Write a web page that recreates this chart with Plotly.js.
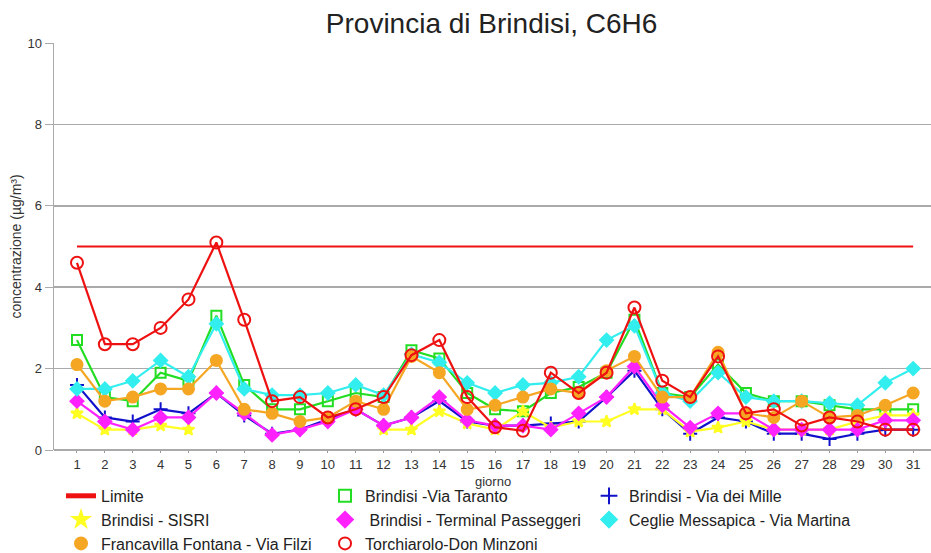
<!DOCTYPE html>
<html>
<head>
<meta charset="utf-8">
<script src="https://cdn.plot.ly/plotly-3.0.1.min.js"></script>
<style>html,body{margin:0;padding:0;background:#fff;}#chart{width:931px;height:553px;}</style>
</head>
<body>
<div id="chart"></div>
<script>
var days = [1,2,3,4,5,6,7,8,9,10,11,12,13,14,15,16,17,18,19,20,21,22,23,24,25,26,27,28,29,30,31];
var limite = [5,5,5,5,5,5,5,5,5,5,5,5,5,5,5,5,5,5,5,5,5,5,5,5,5,5,5,5,5,5,5];
var viaTaranto = [2.7,1.3,1.2,1.9,1.7,3.3,1.6,1.0,1.0,1.2,1.4,1.3,2.45,2.25,1.4,1.0,0.95,1.4,1.55,1.9,3.2,1.4,1.3,2.1,1.4,1.2,1.2,1.1,1.0,1.0,1.0];
var viaDeiMille = [1.6,0.8,0.7,1.0,0.9,1.4,0.85,0.4,0.5,0.75,1.0,0.6,0.8,1.2,0.7,0.6,0.6,0.65,0.7,1.3,1.95,1.0,0.4,0.8,0.7,0.4,0.4,0.27,0.4,0.5,0.5];
var sisri = [0.9,0.5,0.5,0.6,0.5,null,null,null,null,null,null,0.5,0.5,0.95,0.65,0.5,0.95,0.55,0.7,0.7,1.0,1.0,0.45,0.55,0.7,0.5,0.5,0.5,0.7,0.85,0.85];
var terminal = [1.2,0.7,0.5,0.8,0.8,1.4,0.9,0.37,0.5,0.7,1.0,0.6,0.8,1.3,0.73,0.6,0.6,0.5,0.9,1.3,2.05,1.1,0.55,0.9,0.9,0.5,0.5,0.5,0.5,0.73,0.73];
var ceglie = [1.5,1.5,1.7,2.2,1.8,3.1,1.5,1.35,1.35,1.4,1.6,1.35,2.35,2.15,1.65,1.4,1.6,1.65,1.8,2.7,3.05,1.4,1.2,1.9,1.3,1.2,1.2,1.15,1.1,1.65,2.0];
var francavilla = [2.1,1.2,1.3,1.5,1.5,2.2,1.0,0.9,0.7,0.8,1.2,1.0,2.3,1.9,1.0,1.1,1.3,1.5,1.4,1.95,2.3,1.3,1.3,2.4,0.9,0.8,1.2,0.8,0.85,1.1,1.4];
var torchiarolo = [4.6,2.6,2.6,3.0,3.7,5.1,3.2,1.2,1.3,0.8,1.0,1.3,2.33,2.7,1.3,0.56,0.47,1.9,1.4,1.9,3.5,1.7,1.3,2.3,0.9,1.0,0.6,0.8,0.7,0.5,0.5];
var xTitle = 'giorno';

var names = ['Limite','Brindisi -Via Taranto','Brindisi - Via dei Mille','Brindisi - SISRI',' Brindisi - Terminal Passeggeri','Ceglie Messapica - Via Martina','Francavilla Fontana - Via Filzi','Torchiarolo-Don Minzoni'];
var series = [limite, viaTaranto, viaDeiMille, sisri, terminal, ceglie, francavilla, torchiarolo];
var colors = ['#ee1111','#22dd22','#1111cc','#ffff22','#ff22ff','#33eeee','#f5a623','#ee1111'];
var symbols = [null,'square-open','cross-thin-open','star','diamond','diamond','circle','circle-open'];
var sizes = [0,10,10,9,10,10,11,12];

var traces = [];
series.forEach(function(s,i){
  var t = {x: days, y: s, name: names[i], type:'scatter', showlegend:false,
    line:{color:colors[i], width:2.2}, connectgaps:false, hoverinfo:'skip'};
  if (i===0) { t.mode='lines'; }
  else {
    t.mode='lines+markers';
    t.marker={symbol:symbols[i], size:sizes[i], color:colors[i], line:{color:colors[i], width:2}};
  }
  traces.push(t);
});
// legend entries (marker-only keys as in the reference)
series.forEach(function(s,i){
  var t = {x:[null], y:[null], name:names[i], type:'scatter', showlegend:true, hoverinfo:'skip'};
  if (i===0) { t.mode='lines'; t.line={color:colors[i], width:3}; }
  else { t.mode='markers'; t.marker={symbol:symbols[i], size:sizes[i]-1, color:colors[i], line:{color:colors[i], width:2}}; }
  traces.push(t);
});

var layout = {
  width:931, height:553,
  margin:{l:54, r:0, t:43, b:103},
  paper_bgcolor:'#ffffff', plot_bgcolor:'#ffffff',
  font:{family:'Liberation Sans, Arial, sans-serif', color:'#333333', size:12},
  title:{text:'Provincia di Brindisi, C6H6', font:{size:28, color:'#222222'}, x:0.528, xref:'container', xanchor:'center', y:0.958, yref:'container', yanchor:'middle'},
  xaxis:{range:[0.175,31.64], tickmode:'array', tickvals:days, ticktext:days.map(String),
    showgrid:false, zeroline:false, showline:false, ticks:'outside', ticklen:2, tickcolor:'#999999',
    tickfont:{size:13, color:'#333333'}},
  yaxis:{range:[0,10], dtick:2, tick0:0, showgrid:true, gridcolor:'#aaaaaa', gridwidth:1.5,
    zeroline:true, zerolinecolor:'#aaaaaa', zerolinewidth:1.5,
    showline:true, linecolor:'#aaaaaa', linewidth:1.5, ticks:'outside', ticklen:8, tickcolor:'#aaaaaa',
    tickfont:{size:13, color:'#333333'},
    title:{text:'concentrazione (µg/m³)', font:{size:14, color:'#333333'}, standoff:2}},
  annotations:[{text:xTitle, xref:'paper', x:0.5, yref:'paper', y:-0.0762, yanchor:'middle', xanchor:'center',
    showarrow:false, font:{size:13, color:'#333333'}}],
  legend:{orientation:'h', x:0.008, xref:'paper', xanchor:'left', y:0.134, yref:'container', yanchor:'top',
    entrywidth:219, entrywidthmode:'pixels', font:{size:16, color:'#222222'},
    tracegroupgap:0, itemsizing:'constant', bgcolor:'rgba(0,0,0,0)'},
  showlegend:true
};
Plotly.newPlot('chart', traces, layout, {staticPlot:true, displayModeBar:false});
</script>
</body>
</html>
